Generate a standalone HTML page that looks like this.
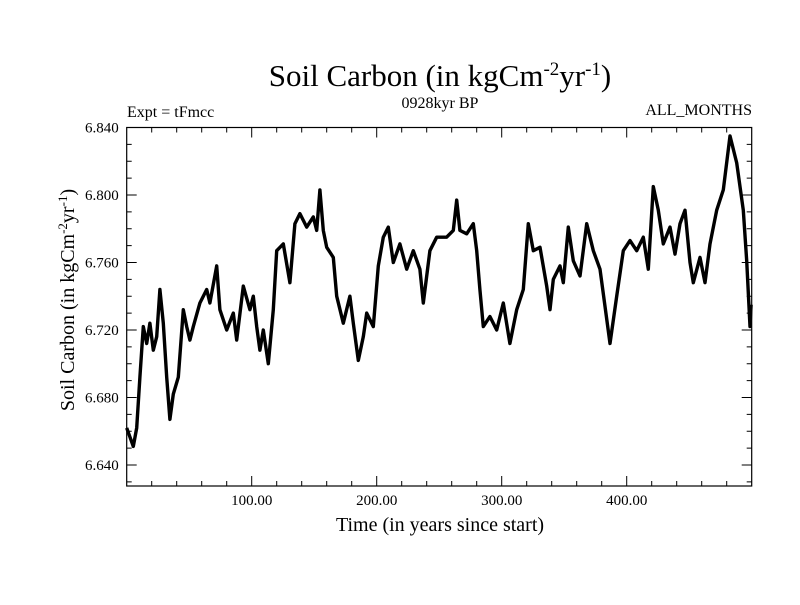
<!DOCTYPE html>
<html><head><meta charset="utf-8"><style>
body{margin:0;background:#fff;}
svg text{font-family:"Liberation Serif",serif;fill:#000;}
</style></head><body>
<svg id="chart" width="800" height="600">
<text x="440" y="86" font-size="31" text-anchor="middle">Soil Carbon (in kgCm<tspan dy="-11" font-size="19">-2</tspan><tspan dy="11">yr</tspan><tspan dy="-11" font-size="19">-1</tspan><tspan dy="11">)</tspan></text>
<text x="127" y="117" font-size="16">Expt = tFmcc</text>
<text x="440" y="108" font-size="16" text-anchor="middle">0928kyr BP</text>
<text x="752" y="115" font-size="16" text-anchor="end">ALL_MONTHS</text>
<text x="440" y="531" font-size="20" text-anchor="middle">Time (in years since start)</text>
<text transform="translate(74,300) rotate(-90)" font-size="20" text-anchor="middle">Soil Carbon (in kgCm<tspan dy="-7" font-size="13">-2</tspan><tspan dy="7">yr</tspan><tspan dy="-7" font-size="13">-1</tspan><tspan dy="7">)</tspan></text>
<g id="axes"></g>
<path id="series" fill="none" stroke="#000" stroke-width="3.4" stroke-linejoin="round"></path>
<rect x="126.7" y="127.5" width="625" height="358.5" fill="none" stroke="#000" stroke-width="1.2"></rect>
</svg>
<script>
const years=[0,5.3,8,10.6,13.3,16,18.6,21.3,24,26.6,29.3,32,34.6,37.3,41.3,45.3,48,50.6,53.3,58.6,64,66.6,72,74.6,80,85.3,88,93.3,98.6,101.3,104,106.6,109.3,113.3,117.3,120,125.3,130.6,134.6,138.6,144,149.3,152,154.6,157.3,160,165.3,168,173.3,178.6,181.3,185.3,189.3,192,197.3,201.3,205.3,209.3,213.3,218.6,224,229.3,234.6,237.3,242.6,248,255.9,261.3,264,266.6,272,277.3,280,282.6,285.3,290.6,296,301.3,306.6,312,317.3,321.3,325.3,330.6,336,338.6,341.3,346.6,349.3,353.3,357.3,362.6,368,373.3,378.6,386.6,392,397.3,402.6,408,413.3,417.3,421.3,425.3,429.3,434.6,438.6,442.6,446.6,450.6,453.3,458.6,462.6,466.6,472,477.3,482.6,488,493.3,496,498.6,499.5];
const values=[6.662,6.651,6.662,6.692,6.722,6.712,6.724,6.708,6.716,6.744,6.724,6.692,6.667,6.682,6.692,6.732,6.722,6.714,6.722,6.736,6.744,6.736,6.758,6.732,6.720,6.730,6.714,6.746,6.732,6.740,6.722,6.708,6.720,6.700,6.732,6.767,6.771,6.748,6.783,6.789,6.781,6.787,6.779,6.803,6.779,6.769,6.763,6.740,6.724,6.740,6.724,6.702,6.716,6.730,6.722,6.758,6.775,6.781,6.760,6.771,6.756,6.767,6.756,6.736,6.767,6.775,6.775,6.779,6.797,6.779,6.777,6.783,6.767,6.744,6.722,6.728,6.720,6.736,6.712,6.732,6.744,6.783,6.767,6.769,6.746,6.732,6.750,6.758,6.748,6.781,6.761,6.752,6.783,6.767,6.756,6.712,6.740,6.767,6.773,6.767,6.775,6.756,6.805,6.791,6.771,6.781,6.765,6.783,6.791,6.760,6.748,6.763,6.748,6.771,6.791,6.803,6.835,6.819,6.791,6.761,6.722,6.735];
const xTicks=[100,200,300,400];
const xTickLabels=["100.00","200.00","300.00","400.00"];
const yTicks=[6.64,6.68,6.72,6.76,6.80,6.84];
const yTickLabels=["6.640","6.680","6.720","6.760","6.800","6.840"];
const L=126.7,R=751.7,T=127.5,B=486;
const X0=0,X1=500,Y1=6.84,ppu=67.5/0.04;
function sx(v){return L+(v-X0)*(R-L)/(X1-X0);}
function sy(v){return T+(Y1-v)*ppu;}
const ns="http://www.w3.org/2000/svg";
const g=document.getElementById('axes');
function line(x1,y1,x2,y2,name){const l=document.createElementNS(ns,'line');l.setAttribute('x1',x1);l.setAttribute('y1',y1);l.setAttribute('x2',x2);l.setAttribute('y2',y2);l.setAttribute('stroke','#000');l.setAttribute('stroke-width','1');


g.appendChild(l);}
function txt(x,y,s,anchor,name){const t=document.createElementNS(ns,'text');t.setAttribute('x',x);t.setAttribute('y',y);t.setAttribute('font-size','15');t.setAttribute('text-anchor',anchor);t.textContent=s;


g.appendChild(t);}
for(let v=20;v<500;v+=20){const x=sx(v);const major=v%100===0;const len=major?10:5;line(x,B,x,B-len,'x-tick');line(x,T,x,T+len,'x-tick-top');}
for(let i=1;i<=21;i++){const v=6.84-i*0.01;const y=sy(v);if(y>B)break;const major=Math.abs((v*100)%4)<0.01||Math.abs((v*100)%4-4)<0.01;const len=major?10:5;line(L,y,L+len,y,'y-tick');line(R,y,R-len,y,'y-tick-right');}
xTicks.forEach((v,i)=>txt(sx(v),B+19,xTickLabels[i],'middle','x-tick-label'));
yTicks.forEach((v,i)=>txt(L-8,sy(v)+5,yTickLabels[i],'end','y-tick-label'));
let d='';years.forEach((yr,i)=>{d+=(i?'L':'M')+sx(yr).toFixed(1)+','+sy(values[i]).toFixed(1);});
document.getElementById('series').setAttribute('d',d);
</script>
</body></html>
